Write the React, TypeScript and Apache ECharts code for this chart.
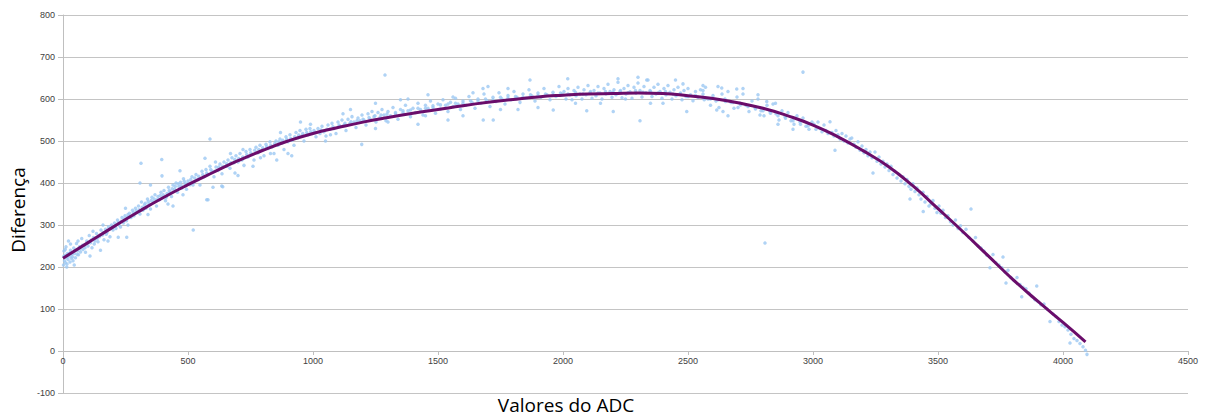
import React, { useEffect, useRef } from "react";
import * as echarts from "echarts";

const xTicks = [0, 500, 1000, 1500, 2000, 2500, 3000, 3500, 4000, 4500];
const yTicks = [-100, 0, 100, 200, 300, 400, 500, 600, 700, 800];

const trendX = [0, 100, 200, 300, 400, 500, 600, 700, 800, 900, 1000, 1100, 1200, 1300, 1400, 1500, 1600, 1700, 1800, 1900, 2000, 2100, 2200, 2300, 2400, 2500, 2600, 2700, 2800, 2900, 3000, 3100, 3200, 3300, 3400, 3500, 3600, 3700, 3800, 3900, 4000, 4090];
const trendY = [221, 258, 295, 331, 365, 396, 425, 453, 478, 500, 518, 532, 545, 556, 566, 575, 584, 592, 599, 605, 609, 612, 613, 614, 613, 608, 601, 591, 578, 560, 538, 510, 477, 440, 393, 339, 284, 227, 170, 118, 68, 22];

const pointsA: number[][] = [
  [2,205],[4,238],[6,215],[8,228],[10,210],[12,248],[14,222],[16,207],[18,232],[20,218],[22,262],[25,226],[28,212],[30,240],[33,221],[36,230],[40,215],[43,245],[46,232],[50,222],[54,256],[58,238],[62,229],[66,248],[70,236],[75,268],[80,242],[85,252],[90,235],[95,262],[100,250],[105,275],[110,258],[116,246],[122,270],[128,262],[134,280],[140,260],[146,272],[152,288],[158,276],[164,265],[170,290],[176,282],[182,296],[188,272],[194,300],[200,288],[206,305],[212,292],[218,312],[224,300],[230,295],[236,318],[242,305],[248,322],[254,310],[260,300],[266,328],[272,318],[278,335],[284,322],[290,340],[296,330],[302,345],[308,326],[314,355],[320,335],[326,348],[332,340],[338,362],[344,350],[350,338],[356,366],[362,355],[368,372],[374,345],[380,368],[386,360],[392,378],[398,365],[404,382],[410,358],[416,375],[422,390],[428,378],[434,368],[440,395],[446,385],[452,400],[458,378],[464,392],[470,402],[476,388],[482,410],[488,398],[494,385],[500,405],[508,396],[516,415],[524,402],[532,420],[540,408],[548,395],[556,428],[564,415],[572,432],[580,420],[588,440],[596,428],[604,415],[612,438],[620,430],[628,445],[636,422],[644,450],[652,440],[660,455],[668,435],[676,460],[684,448],[692,465],[700,450],[708,470],[716,455],[724,442],[732,475],[740,462],[748,480],[756,468],[764,455],[772,485],[780,472],[788,490],[796,478],[804,465],[812,492],[820,482],[828,498],[836,486],[844,470],[852,500],[860,490],[868,505],[876,495],[884,480],[892,510],[900,498],[908,515],[916,502],[924,490],[932,520],[940,508],[948,525],[956,512],[964,500],[972,528],[980,515],[988,530],[996,518],
  [312,447],[395,456],[521,288],[308,400],[588,505],[221,271],[255,271],[108,226],[396,417],[468,429],[580,360],[635,393],[688,424],[568,459],[656,440],[575,360],[639,391],[855,455],[915,465],[150,240],[440,345],[600,390],[700,418],[760,440],[900,470],[950,545],[350,395],[250,340],[180,262],[30,255],[15,200],[45,205],[60,262],[120,285],[260,325],[420,350],[480,372],[520,395],[610,450],[720,480],[830,470],[870,520],[990,540],[790,460],[670,470],[340,325],[160,300]
];

const pointsE: number[][] = [
  [3,225],[9,242],[19,226],[27,233],[38,224],[48,240],[57,230],[68,244],[78,252],[88,246],[98,257],[113,264],[125,255],[137,268],[149,276],[161,282],[173,278],[185,290],[197,296],[209,298],[221,306],[233,309],[245,314],[257,318],[269,320],[281,330],[293,334],[305,336],[317,342],[329,352],[341,356],[353,358],[365,362],[377,360],[389,370],[401,372],[413,366],[425,382],[437,386],[449,392],[461,398],[473,394],[485,404],[497,398],[511,408],[527,412],[543,416],[559,420],[575,424],[591,432],[607,428],[623,438],[639,440],[655,446],[671,448],[687,456],[703,458],[719,462],[735,468],[751,472],[767,478],[783,480],[799,484],[815,486],[831,490],[847,494],[863,498],[879,502],[895,504],[911,506],[927,510],[943,514],[959,518],[975,520],[991,522],
  [1008,520],[1032,526],[1056,528],[1080,534],[1104,538],[1128,542],[1152,546],[1176,548],[1200,552],[1224,556],[1248,560],[1272,562],[1296,564],[1330,568],[1360,572],[1390,574],[1420,578],[1450,578],[1480,584],[1510,586],[1540,588],[1570,590],[1600,590],[1630,596],[1660,596],[1690,600],[1720,598],[1750,604],[1780,602],[1810,606],[1840,604],[1870,610],[1900,608],[1930,612],[1960,610],[1990,614],
  [2020,612],[2050,616],[2080,612],[2110,618],[2140,614],[2170,618],[2200,616],[2230,620],[2260,615],[2290,620],[2320,616],[2350,618],[2380,614],[2410,618],[2440,612],[2470,614],[2500,606],[2530,608],[2560,604],[2590,600],[2620,598],[2650,594],[2680,592],[2710,586],[2740,582],[2770,576],[2800,572],[2830,566],[2860,560],[2890,554],[2920,548],[2950,540],[2980,536]
];

const pointsB: number[][] = [
  [1004,525],[1012,510],[1020,530],[1028,518],[1036,535],[1044,522],[1052,512],[1060,538],[1068,528],[1076,542],[1084,530],[1092,518],[1100,545],[1108,535],[1116,550],[1124,538],[1132,525],[1140,552],[1148,542],[1156,558],[1164,545],[1172,532],[1180,555],[1188,548],[1196,562],[1204,550],[1212,538],[1220,565],[1228,552],[1236,570],[1244,558],[1252,545],[1260,568],[1268,556],[1276,575],[1284,562],[1292,548],[1300,570],[1310,560],[1320,580],[1330,565],[1340,552],[1350,575],[1360,568],[1370,585],[1380,572],[1390,558],[1400,578],[1410,568],[1420,590],[1430,575],[1440,562],[1450,585],[1460,578],[1470,595],[1480,580],[1490,566],[1500,588],[1510,576],[1520,598],[1530,585],[1540,570],[1550,592],[1560,582],[1570,602],[1580,588],[1590,575],[1600,595],[1612,585],[1624,606],[1636,592],[1648,578],[1660,600],[1672,590],[1684,612],[1696,596],[1708,582],[1720,604],[1732,594],[1744,615],[1756,600],[1768,588],[1780,608],[1792,598],[1804,618],[1816,604],[1828,592],[1840,612],[1852,602],[1864,622],[1876,607],[1888,595],[1900,614],[1912,604],[1924,625],[1936,610],[1948,598],[1960,616],[1972,606],[1984,630],[1996,612],
  [1288,657],[1195,492],[1250,590],[1350,598],[1420,540],[1540,550],[1600,560],[1680,625],[1750,575],[1868,645],[1900,580],[1961,574],[1721,550],[1681,550],[1460,610],[1380,600],[1120,565],[1050,500],[1150,575],[1820,575],[1700,630],[1560,605],[1640,615],[1780,625],[1300,545],[1450,560],[1250,530],[1070,515]
];

const pointsC: number[][] = [
  [2004,618],[2012,600],[2020,625],[2028,610],[2036,598],[2044,620],[2052,608],[2060,628],[2068,612],[2076,600],[2084,622],[2092,610],[2100,632],[2108,615],[2116,602],[2124,620],[2132,608],[2140,630],[2148,614],[2156,600],[2164,625],[2172,612],[2180,635],[2188,618],[2196,604],[2204,622],[2212,610],[2220,640],[2228,618],[2236,603],[2244,625],[2252,612],[2260,632],[2268,617],[2276,602],[2284,628],[2292,614],[2300,638],[2308,620],[2316,605],[2324,630],[2332,615],[2340,645],[2348,620],[2356,606],[2364,628],[2372,612],[2380,635],[2388,618],[2396,602],[2404,625],[2412,610],[2420,632],[2428,616],[2436,600],[2444,622],[2452,608],[2460,628],[2468,612],[2476,598],[2484,620],[2492,606],[2500,625],[2510,610],[2520,596],[2530,618],[2540,604],[2550,622],[2560,612],[2565,598],[2570,628],[2580,600],[2590,585],[2600,608],[2612,595],[2624,580],[2636,612],[2648,600],[2660,618],[2672,592],[2684,578],[2696,605],[2708,590],[2720,612],[2732,585],[2744,570],[2756,595],[2768,580],[2780,600],[2792,572],[2804,560],[2816,585],[2828,570],[2840,588],[2852,565],[2864,550],[2876,572],[2888,558],[2900,568],[2912,548],[2924,540],[2936,560],[2948,545],[2960,555],[2972,535],[2984,528],[2996,545],
  [2960,664],[2808,257],[2308,548],[2019,648],[2300,652],[2335,645],[2095,572],[2201,570],[2495,570],[2480,636],[2560,620],[2560,632],[2635,626],[2695,624],[2615,574],[2788,562],[2815,594],[2920,528],[2640,570],[2660,560],[2700,580],[2720,625],[2780,610],[2850,590],[2860,540],[2620,630],[2220,648],[2150,590],[2050,590],[2400,590],[2450,645],[2250,600],[2350,590]
];

const pointsD: number[][] = [
  [3004,540],[3012,528],[3020,545],[3028,530],[3036,522],[3044,538],[3052,525],[3060,518],[3068,546],[3076,520],[3084,512],[3088,478],[3092,525],[3100,515],[3108,505],[3116,518],[3124,500],[3132,512],[3140,495],[3148,505],[3155,507],[3164,492],[3172,485],[3180,498],[3188,478],[3196,488],[3204,472],[3212,480],[3220,465],[3228,474],[3236,460],[3240,424],[3248,474],[3256,452],[3264,462],[3272,445],[3280,452],[3288,438],[3296,445],[3304,430],[3312,440],[3320,420],[3328,428],[3336,412],[3344,420],[3352,405],[3360,415],[3368,398],[3376,408],[3384,392],[3388,362],[3392,385],[3400,398],[3408,380],[3416,388],[3424,372],[3432,362],[3440,378],[3441,332],[3448,355],[3456,368],[3464,345],[3472,350],[3480,358],[3488,340],[3496,330],[3504,345],[3512,328],[3520,335],[3530,318],[3540,322],[3550,308],[3560,300],[3570,312],[3580,292],[3590,298],[3600,282],[3612,290],[3624,270],[3632,338],[3640,262],[3650,270],[3660,250],[3672,245],[3684,238],[3696,228],[3708,198],[3720,230],[3732,210],[3744,205],[3756,198],[3760,224],[3768,188],[3772,162],[3780,192],[3792,175],[3804,168],[3816,175],[3828,158],[3835,129],[3840,152],[3852,148],[3864,138],[3876,130],[3888,122],[3895,155],[3900,118],[3912,110],[3924,112],[3936,100],[3948,70],[3960,88],[3972,82],[3984,70],[3996,62],[4008,58],[4020,50],[4028,19],[4032,40],[4044,30],[4056,25],[4068,18],[4080,10],[4090,2],[4096,-8]
];

export default function App() {
  const ref = useRef<HTMLDivElement>(null);
  useEffect(() => {
    document.body.style.margin = "0";
    if (!ref.current) return;
    const chart = echarts.init(ref.current, null, { renderer: "svg" });
    const scatterData = [...pointsA, ...pointsE, ...pointsB, ...pointsC, ...pointsD];
    const lineData = trendX.map((x, i) => [x, trendY[i]]);
    const labelStyle = { color: "#404040", fontSize: 9, fontFamily: "Liberation Sans" };
    chart.setOption({
      animation: false,
      backgroundColor: "#ffffff",
      grid: { left: 63, right: 20, top: 15, bottom: 24, containLabel: false },
      xAxis: {
        type: "value",
        position: "bottom",
        offset: -42,
        min: xTicks[0],
        max: xTicks[xTicks.length - 1],
        interval: 500,
        axisLine: { show: true, onZero: false, lineStyle: { color: "#bfbfbf", width: 1 } },
        axisTick: { show: true, length: 4, lineStyle: { color: "#bfbfbf" } },
        axisLabel: { ...labelStyle, margin: 5, formatter: (v: number) => String(v) },
        splitLine: { show: false },
      },
      yAxis: {
        type: "value",
        min: yTicks[0],
        max: yTicks[yTicks.length - 1],
        interval: 100,
        axisLine: { show: true, lineStyle: { color: "#bfbfbf", width: 1 } },
        axisTick: { show: true, length: 5, lineStyle: { color: "#bfbfbf" } },
        axisLabel: { ...labelStyle, margin: 8, formatter: (v: number) => String(v) },
        splitLine: { show: true, lineStyle: { color: "#c4c4c4", width: 1 } },
      },
      graphic: [
        {
          type: "text",
          x: 18,
          y: 210,
          rotation: Math.PI / 2,
          style: {
            text: "Diferença",
            fill: "#000000",
            font: "19px 'Open Sans'",
            align: "center",
            verticalAlign: "middle",
          },
        },
        {
          type: "text",
          x: 566,
          y: 405,
          style: {
            text: "Valores do ADC",
            fill: "#000000",
            font: "19px 'Open Sans'",
            align: "center",
            verticalAlign: "middle",
          },
        },
      ],
      series: [
        {
          type: "scatter",
          data: scatterData,
          symbol: "circle",
          symbolSize: 3.5,
          itemStyle: { color: "#9cc8f2" },
          z: 2,
        },
        {
          type: "line",
          data: lineData,
          smooth: true,
          showSymbol: false,
          symbol: "none",
          lineStyle: { color: "#6a0d6a", width: 3 },
          z: 3,
        },
      ],
    });
    return () => chart.dispose();
  }, []);
  return <div ref={ref} style={{ width: 1208, height: 417 }} />;
}
